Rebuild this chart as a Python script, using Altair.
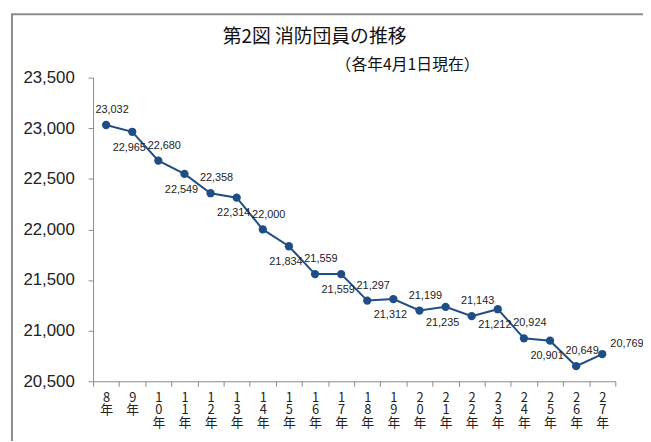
import altair as alt
import pandas as pd

years = [8, 9, 10, 11, 12, 13, 14, 15, 16, 17, 18, 19, 20, 21, 22, 23, 24, 25, 26, 27]
year_labels = ["8年", "9年", "10年", "11年", "12年", "13年", "14年", "15年", "16年", "17年",
               "18年", "19年", "20年", "21年", "22年", "23年", "24年", "25年", "26年", "27年"]
members = [23032, 22965, 22680, 22549, 22358, 22314, 22000, 21834, 21559, 21559,
           21297, 21312, 21199, 21235, 21143, 21212, 20924, 20901, 20649, 20769]
y_ticks = [20500, 21000, 21500, 22000, 22500, 23000, 23500]
title_text = "第2図 消防団員の推移"
subtitle_text = "（各年4月1日現在）"

df = pd.DataFrame({"year": years, "label": year_labels, "value": members})

COLOR = "#1F4E86"
AXIS_GRAY = "#8a8a8a"
NUM_FONT = "Liberation Sans"
JP_FONT = "Noto Sans CJK JP"

base = alt.Chart(df).encode(
    x=alt.X(
        "label:N",
        sort=year_labels,
        scale=alt.Scale(type="band", paddingInner=0, paddingOuter=0),
        axis=alt.Axis(
            title=None,
            labelAngle=0,
            labelExpr="split(datum.label, '')",
            tickBand="extent",
            tickSize=5,
            tickColor=AXIS_GRAY,
            domainColor=AXIS_GRAY,
            labelFont=JP_FONT,
            labelFontSize=13,
            labelLineHeight=13,
            labelPadding=5,
            labelBaseline="top",
            labelColor="#222222",
            labelOverlap=False,
        ),
    ),
    y=alt.Y(
        "value:Q",
        scale=alt.Scale(domain=[20500, 23500], nice=False, zero=False),
        axis=alt.Axis(
            title=None,
            values=y_ticks,
            format=",d",
            grid=False,
            tickSize=5,
            tickColor=AXIS_GRAY,
            domainColor=AXIS_GRAY,
            labelPadding=14,
            labelFont=NUM_FONT,
            labelFontSize=17,
            labelColor="#222222",
        ),
    ),
)

line = base.mark_line(color=COLOR, strokeWidth=2)
points = base.mark_circle(color=COLOR, size=70, opacity=1)

label_common = dict(font=NUM_FONT, fontSize=11, color="#222222", align="center", baseline="middle")
labels_above = base.mark_text(dx=6, dy=-15, **label_common).encode(
    text=alt.Text("value:Q", format=",d")
).transform_filter("datum.year % 2 == 0")
labels_below = base.mark_text(dx=-3, dy=16, **label_common).encode(
    text=alt.Text("value:Q", format=",d")
).transform_filter("datum.year % 2 == 1 && datum.year < 27")
labels_right = base.mark_text(dx=25, dy=-10, **label_common).encode(
    text=alt.Text("value:Q", format=",d")
).transform_filter("datum.year == 27")

one = pd.DataFrame({"t": [title_text], "s": [subtitle_text]})
title = alt.Chart(one).mark_text(
    font=JP_FONT, fontSize=19, color="#111111", align="center", baseline="middle"
).encode(x=alt.value(224), y=alt.value(-41), text="t:N")
subtitle = alt.Chart(one).mark_text(
    font=JP_FONT, fontSize=16, color="#111111", align="center", baseline="middle"
).encode(x=alt.value(318), y=alt.value(-13), text="s:N")

frame_v = alt.Chart(one).mark_rule(color="#8c8c8c", strokeWidth=2).encode(
    x=alt.value(-82), y=alt.value(-64), y2=alt.value(400)
)
frame_h = alt.Chart(one).mark_rule(color="#8c8c8c", strokeWidth=2).encode(
    x=alt.value(-83), x2=alt.value(570), y=alt.value(-64)
)

chart = alt.layer(
    frame_v, frame_h, line, points, labels_above, labels_below, labels_right, title, subtitle
).properties(
    width=528,
    height=307,
    padding={"left": 86, "top": 68, "right": 28, "bottom": 58},
    autosize="none",
    background="white",
).configure_view(stroke=None)

chart.save("out.html", embed_options={"renderer": "svg", "actions": False})
